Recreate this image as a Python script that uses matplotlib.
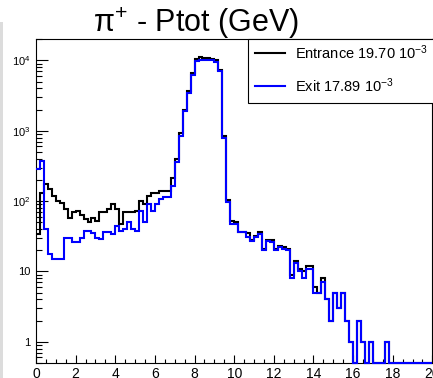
import numpy as np
import matplotlib
matplotlib.use("Agg")
import matplotlib.pyplot as plt
from matplotlib.ticker import FixedLocator, FixedFormatter, LogLocator, NullFormatter, MultipleLocator
from matplotlib.patches import Rectangle
from matplotlib.lines import Line2D

plt.rcParams['font.family'] = ['Liberation Sans', 'DejaVu Sans']
plt.rcParams['mathtext.fontset'] = 'custom'
plt.rcParams['mathtext.rm'] = 'Liberation Sans'
plt.rcParams['mathtext.it'] = 'Liberation Sans:italic'
plt.rcParams['mathtext.bf'] = 'Liberation Sans:bold'

# Momentum binning: 100 bins from 0 to 20 GeV
bin_edges = np.linspace(0.0, 20.0, 101)

# Entrance counts per bin
entrance = [
    34, 132, 174, 150, 118, 100, 93, 78, 58, 70,
    72, 63, 55, 50, 57, 52, 69, 69, 77, 92,
    77, 48, 69, 69, 69, 72, 100, 90, 119, 129,
    129, 139, 139, 139, 216, 400, 920, 2000, 3700, 6600,
    10600, 11200, 10700, 10700, 10600, 10100, 7400, 850, 105, 52,
    50, 37, 37, 35, 28, 32, 36, 21, 28, 28,
    21, 23, 22, 21, 9, 14, 11, 10, 12, 12,
    6, 5, 8, 4, 2, 5, 3, 5, 2, 1,
    0, 2, 1, 0, 1, 0, 0, 0, 1, 0,
    0, 0, 0, 0, 0, 0, 0, 0, 0, 0,
]

# Exit counts per bin
exit_counts = [
    290, 370, 40, 18, 15, 15, 15, 30, 30, 26,
    26, 30, 38, 38, 35, 30, 29, 36, 36, 34,
    45, 38, 40, 50, 40, 38, 72, 50, 90, 72,
    90, 106, 113, 113, 164, 360, 850, 1900, 3450, 6200,
    9700, 10100, 10100, 10000, 10000, 9600, 7000, 800, 98, 48,
    48, 36, 36, 31, 27, 31, 34, 20, 27, 26,
    20, 22, 21, 20, 8, 13, 10, 8, 11, 11,
    5, 5, 7, 4, 2, 5, 3, 5, 2, 1,
    0, 2, 1, 0, 1, 0, 0, 0, 1, 0,
    0, 0, 0, 0, 0, 0, 0, 0, 0, 0,
]

series_labels = [r'Entrance 19.70 10$^{-3}$', r'Exit 17.89 10$^{-3}$']
series_colors = ['black', '#0000ff']

y_lo, y_hi = 0.5, 2.0e4
x_ticks = list(range(0, 21, 2))
x_ticklabels = [str(v) for v in x_ticks]
y_ticks = [1, 10, 100, 1000, 10000]
y_ticklabels = ['1', '10', r'10$^{2}$', r'10$^{3}$', r'10$^{4}$']

W, H = 433, 378
fig = plt.figure(figsize=(W / 100, H / 100), dpi=100)
fig.patch.set_facecolor('white')

# frame position in pixels
left, right, top, bottom = 36.0, 432.4, 39.3, 363.0
ax = fig.add_axes([left / W, (H - bottom) / H, (right - left) / W, (bottom - top) / H])
ax.set_yscale('log')
ax.set_xlim(0, 20)
ax.set_ylim(y_lo, y_hi)


def on_floor(vals):
    v = np.asarray(vals, dtype=float)
    return np.where(v > 0, v, y_lo)


for vals, col in zip([entrance, exit_counts], series_colors):
    ax.stairs(on_floor(vals), bin_edges, baseline=None, color=col,
              linewidth=1.5, zorder=3, clip_on=False)

for sp in ax.spines.values():
    sp.set_linewidth(0.8)
    sp.set_color('black')

ax.xaxis.set_major_locator(FixedLocator(x_ticks))
ax.xaxis.set_major_formatter(FixedFormatter(x_ticklabels))
ax.xaxis.set_minor_locator(MultipleLocator(0.5))
ax.yaxis.set_major_locator(FixedLocator(y_ticks))
ax.yaxis.set_major_formatter(FixedFormatter(y_ticklabels))
ax.yaxis.set_minor_locator(LogLocator(base=10, subs=np.arange(2, 10), numticks=20))
ax.yaxis.set_minor_formatter(NullFormatter())

ax.tick_params(axis='x', which='major', direction='in', length=6, width=0.8,
               labelsize=10, pad=3, top=False)
ax.tick_params(axis='x', which='minor', direction='in', length=3, width=0.8, top=False)
ax.tick_params(axis='y', which='major', direction='in', length=8.5, width=0.8,
               labelsize=8, pad=4, right=False)
ax.tick_params(axis='y', which='minor', direction='in', length=4.3, width=0.8, right=False)

# legend box
lx0, lx1, ly0, ly1 = 247.5, 440, 39, 103
fig.patches.append(Rectangle((lx0 / W, (H - ly1) / H), (lx1 - lx0) / W, (ly1 - ly0) / H,
                             transform=fig.transFigure, facecolor='white',
                             edgecolor='black', linewidth=0.8, zorder=5))
for row_y, lab, col in zip([52.5, 85.5], series_labels, series_colors):
    fy = (H - row_y) / H
    fig.lines.append(Line2D([255 / W, 285 / W], [fy, fy], transform=fig.transFigure,
                            color=col, linewidth=1.5, zorder=6))
    fig.text(295 / W, fy, lab, fontsize=10.5, ha='left', va='center', zorder=6)

# title
fig.text(196.5 / W, (H - 32) / H, r'$\mathrm{\pi}^{+}$ - Ptot (GeV)', fontsize=22,
         ha='center', va='baseline')

# thin grey edge on the left of the canvas
fig.patches.append(Rectangle((0, 0), 3 / W, (H - 22) / H, transform=fig.transFigure,
                             facecolor='#dcdcdc', edgecolor='none', zorder=1))

fig.savefig('out.png', dpi=100)
